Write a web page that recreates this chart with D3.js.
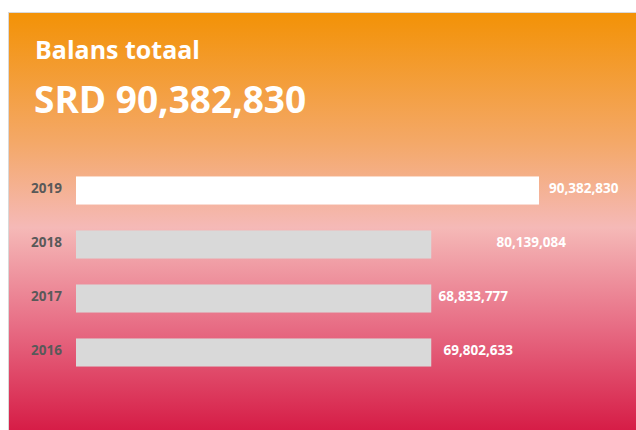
<!DOCTYPE html>
<meta charset="utf-8">
<style>
body { margin: 0; background: #fff; }
svg { display: block; }
.title { font-family: "Open Sans", Lato, sans-serif; font-weight: bold; fill: #fff; }
.year { font-family: "Open Sans", Lato, sans-serif; font-weight: bold; font-size: 13.5px; fill: #595959; }
.val { font-family: "Open Sans", Lato, sans-serif; font-weight: bold; font-size: 13.5px; fill: #fff; }
</style>
<svg width="636" height="430"></svg>
<script src="https://cdn.jsdelivr.net/npm/d3@7"></script>
<script>

// data
var years = ["2019", "2018", "2017", "2016"];
var totals = [90382830, 80139084, 68833777, 69802633];
// drawn bar lengths (the grey bars in the original are all cut at the same length)
var barLengths = [90382830, 69350000, 69350000, 69350000];
var barColors = ["#ffffff", "#d9d9d9", "#d9d9d9", "#d9d9d9"];

var svg = d3.select("svg"),
    width = +svg.attr("width"),
    height = +svg.attr("height");

var fmt = d3.format(",");

var grad = svg.append("defs").append("linearGradient")
    .attr("id", "bg")
    .attr("x1", 0).attr("y1", 0).attr("x2", 0).attr("y2", 1);
grad.selectAll("stop")
    .data([["0%", "#f39206"], ["30%", "#f4a867"], ["50%", "#f5b9b7"], ["72%", "#e87087"], ["100%", "#d4133f"]])
  .enter().append("stop")
    .attr("offset", function(d) { return d[0]; })
    .attr("stop-color", function(d) { return d[1]; });

// panel
svg.append("rect")
    .attr("x", 8.5).attr("y", 12.5)
    .attr("width", width).attr("height", height)
    .attr("fill", "url(#bg)")
    .attr("stroke", "#d9d9d9");

svg.append("text").attr("class", "title")
    .attr("x", 35).attr("y", 59)
    .style("font-size", "25px")
    .text("Balans totaal");

svg.append("text").attr("class", "title")
    .attr("x", 34).attr("y", 113)
    .style("font-size", "37px")
    .text("SRD " + fmt(totals[0]));

var x = d3.scaleLinear()
    .domain([0, totals[0]])
    .range([76, 539]);

var y = d3.scaleBand()
    .domain(years)
    .range([163.5, 379.5])
    .paddingInner(0.48)
    .paddingOuter(0.24);

var rows = svg.append("g").selectAll("g")
    .data(years)
  .enter().append("g");

rows.append("rect")
    .attr("x", x(0))
    .attr("y", function(d) { return y(d); })
    .attr("width", function(d, i) { return x(barLengths[i]) - x(0); })
    .attr("height", y.bandwidth())
    .attr("fill", function(d, i) { return barColors[i]; });

rows.append("text").attr("class", "year")
    .attr("x", 62)
    .attr("y", function(d) { return y(d) + y.bandwidth() / 2 - 2; })
    .attr("dy", "0.35em")
    .attr("text-anchor", "end")
    .text(function(d) { return d; });

rows.append("text").attr("class", "val")
    .attr("x", function(d, i) { return x(totals[i]) + 10; })
    .attr("y", function(d) { return y(d) + y.bandwidth() / 2 - 2; })
    .attr("dy", "0.35em")
    .text(function(d, i) { return fmt(totals[i]); });

</script>
